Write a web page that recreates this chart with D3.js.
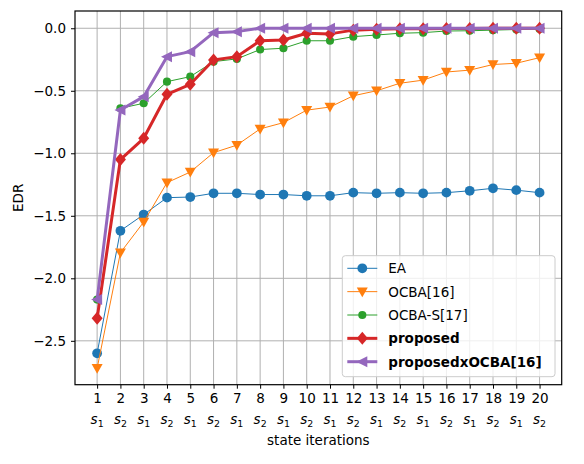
<!DOCTYPE html>
<html><head><meta charset="utf-8">
<script src="https://cdn.jsdelivr.net/npm/d3@7"></script>
<style>body{margin:0;background:#fff}svg{display:block;font-family:"DejaVu Sans",sans-serif}</style>
</head><body><svg id="c" width="584" height="464"></svg>
<script>
const iterations = d3.range(1, 21);
const stateLabels = ["1","2","1","2","1","2","1","2","1","2","1","2","1","2","1","2","1","2","1","2"];
const EA = [-2.60,-1.62,-1.49,-1.355,-1.35,-1.32,-1.32,-1.33,-1.33,-1.34,-1.34,-1.315,-1.32,-1.315,-1.32,-1.315,-1.30,-1.28,-1.295,-1.315];
const OCBA16 = [-2.72,-1.795,-1.55,-1.235,-1.15,-0.995,-0.935,-0.805,-0.755,-0.655,-0.63,-0.54,-0.50,-0.44,-0.415,-0.35,-0.335,-0.29,-0.28,-0.235];
const OCBAS17 = [-2.17,-0.64,-0.60,-0.427,-0.387,-0.267,-0.245,-0.17,-0.16,-0.10,-0.10,-0.067,-0.054,-0.04,-0.035,-0.022,-0.02,-0.015,-0.01,-0.005];
const proposed = [-2.32,-1.05,-0.88,-0.528,-0.448,-0.254,-0.227,-0.10,-0.094,-0.04,-0.045,-0.015,-0.008,-0.004,-0.003,-0.002,-0.001,0,0,0];
const proposedxOCBA16 = [-2.17,-0.654,-0.547,-0.227,-0.187,-0.035,-0.027,0,0,0,0,0,0,0,0,0,0,0,0,0];
const yTicks = [0.0,-0.5,-1.0,-1.5,-2.0,-2.5];
const seriesNames = ["EA","OCBA[16]","OCBA-S[17]","proposed","proposedxOCBA[16]"];

const svg = d3.select("#c");
const L=75, R=561.7, T=11, B=384.7;
const x = d3.scaleLinear().domain([0.05,20.95]).range([L,R]);
const y = d3.scaleLinear().domain([-2.851,0.138]).range([B,T]);

// grid
const g = svg.append("g");
g.selectAll(".vx").data(iterations).join("line")
  .attr("x1",d=>x(d)).attr("x2",d=>x(d)).attr("y1",T).attr("y2",B)
  .attr("stroke","#b0b0b0").attr("stroke-width",1);
g.selectAll(".hy").data(yTicks).join("line")
  .attr("x1",L).attr("x2",R).attr("y1",d=>y(d)).attr("y2",d=>y(d))
  .attr("stroke","#b0b0b0").attr("stroke-width",1);

// axes
const fs = 13.5;
const xAxis = d3.axisBottom(x).tickValues(iterations).tickSize(4).tickPadding(5).tickFormat(d3.format("d"));
const gx = svg.append("g").attr("transform",`translate(0,${B})`).call(xAxis);
gx.select(".domain").remove();
gx.selectAll("text").attr("font-size",fs).attr("fill","#000").attr("font-family","DejaVu Sans");
gx.selectAll("line").attr("stroke","#000");
const yAxis = d3.axisLeft(y).tickValues(yTicks).tickSize(4).tickPadding(5).tickFormat(d=>d3.format(".1f")(d).replace("-","\u2212"));
const gy = svg.append("g").attr("transform",`translate(${L},0)`).call(yAxis);
gy.select(".domain").remove();
gy.selectAll("text").attr("font-size",fs).attr("fill","#000").attr("font-family","DejaVu Sans");
gy.selectAll("line").attr("stroke","#000");

// state labels s1/s2
const sl = svg.append("g");
iterations.forEach((d,i)=>{
  const t = sl.append("text").attr("x",x(d)).attr("y",424).attr("text-anchor","middle").attr("font-size",fs);
  t.append("tspan").attr("font-style","italic").text("s");
  t.append("tspan").attr("font-size",fs*0.7).attr("dy",3).text(stateLabels[i]);
});

svg.append("text").attr("x",(L+R)/2).attr("y",445).attr("text-anchor","middle").attr("font-size",fs).text("state iterations");
svg.append("text").attr("transform",`translate(23,${(T+B)/2}) rotate(-90)`).attr("text-anchor","middle").attr("font-size",fs).text("EDR");

// series
const colors = ["#1f77b4","#ff7f0e","#2ca02c","#d62728","#9467bd"];
const data = [EA,OCBA16,OCBAS17,proposed,proposedxOCBA16];
const widths = [1,1,1,3,3];
const markerPath = [
  d3.symbol(d3.symbolCircle, 75)(),
  "M-5.5,-4.2L5.5,-4.2L0,5.5Z",
  d3.symbol(d3.symbolCircle, 52)(),
  "M0,-6.5L5.5,0L0,6.5L-5.5,0Z",
  "M-6,0L5,-5.5L5,5.5Z"
];
const line = d3.line().x((d,i)=>x(iterations[i])).y(d=>y(d));
const plot = svg.append("g");
data.forEach((s,k)=>{
  const sg = plot.append("g");
  sg.append("path").attr("d",line(s)).attr("fill","none").attr("stroke",colors[k]).attr("stroke-width",widths[k]).attr("stroke-linejoin","round");
  sg.selectAll("path.m").data(s).join("path").attr("class","m")
    .attr("transform",(d,i)=>`translate(${x(iterations[i])},${y(d)})`)
    .attr("d",markerPath[k]).attr("fill",colors[k]);
});

// frame
svg.append("rect").attr("x",L).attr("y",T).attr("width",R-L).attr("height",B-T).attr("fill","none").attr("stroke","#000").attr("stroke-width",1.2);

// legend
const lg = svg.append("g");
lg.append("rect").attr("x",342.3).attr("y",255.7).attr("width",212.7).attr("height",121).attr("rx",3)
  .attr("fill","#fff").attr("fill-opacity",0.8).attr("stroke","#cccccc");
seriesNames.forEach((n,k)=>{
  const yy = 268.3 + k*23.35;
  lg.append("line").attr("x1",347.3).attr("x2",377.3).attr("y1",yy).attr("y2",yy).attr("stroke",colors[k]).attr("stroke-width",widths[k]);
  lg.append("path").attr("transform",`translate(362.3,${yy})`).attr("d",markerPath[k]).attr("fill",colors[k]);
  lg.append("text").attr("x",388.3).attr("y",yy+5).attr("font-size",fs).attr("font-weight",k>=3?"bold":"normal").text(n);
});
</script></body></html>
